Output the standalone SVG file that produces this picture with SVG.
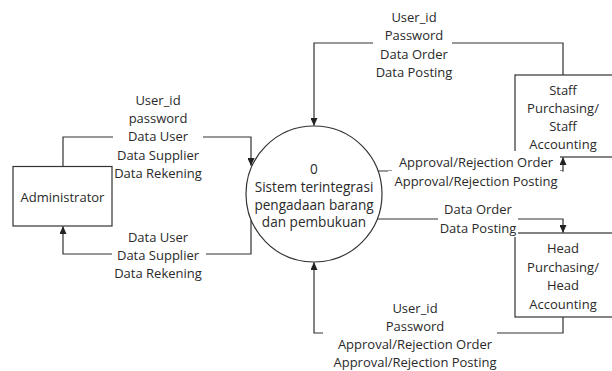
<svg xmlns="http://www.w3.org/2000/svg" width="612" height="371" viewBox="0 0 612 371">
<defs>
<style>
.t{font-family:"Open Sans","Liberation Sans",sans-serif;font-size:13px;fill:#2a2a2a;text-anchor:middle}
.c{font-size:13.6px}
.box{fill:#fff;stroke:#333;stroke-width:1.2}
.ln{fill:none;stroke:#333;stroke-width:1.2}
.bg{fill:#fff}
</style>
<marker id="ar" markerWidth="8" markerHeight="7" refX="7.5" refY="3.5" orient="auto" markerUnits="userSpaceOnUse">
<path d="M0,0 L8,3.5 L0,7 z" fill="#222"/>
</marker>
</defs>
<rect width="612" height="371" fill="#fff"/>

<g id="process0">
<circle cx="314" cy="194" r="68" class="box"/>
<text class="t c" x="314" y="173.5">0</text>
<text class="t c" x="314" y="191.5">Sistem terintegrasi</text>
<text class="t c" x="314" y="209.5">pengadaan barang</text>
<text class="t c" x="314" y="227">dan pembukuan</text>
</g>

<g id="administrator">
<rect x="13" y="166.5" width="99" height="59.5" class="box"/>
<text class="t" x="62.5" y="201.5">Administrator</text>
</g>

<g id="staff">
<rect x="515" y="75" width="100" height="82" class="box"/>
<text class="t" x="563" y="94.5">Staff</text>
<text class="t" x="563" y="112.5">Purchasing/</text>
<text class="t" x="563" y="130.5">Staff</text>
<text class="t" x="563" y="148.5">Accounting</text>
</g>

<g id="head">
<rect x="515" y="233" width="100" height="84" class="box"/>
<text class="t" x="563" y="253">Head</text>
<text class="t" x="563" y="271.5">Purchasing/</text>
<text class="t" x="563" y="290">Head</text>
<text class="t" x="563" y="308.5">Accounting</text>
</g>

<g id="connectors">
<path class="ln" d="M63 166.5 V137 H251 V165.5" marker-end="url(#ar)"/>
<path class="ln" d="M251 220 V254 H63 V226.5" marker-end="url(#ar)"/>
<path class="ln" d="M563 75 V43 H314 V125.5" marker-end="url(#ar)"/>
<path class="ln" d="M378 171 H563 V157.5" marker-end="url(#ar)"/>
<path class="ln" d="M377 219 H563 V232.5" marker-end="url(#ar)"/>
<path class="ln" d="M563 317 V333 H314 V262.5" marker-end="url(#ar)"/>

<g id="lbl-admin-in">
<rect class="bg" x="113" y="91" width="90" height="92"/>
<text class="t" x="158" y="104.5">User_id</text>
<text class="t" x="158" y="122.5">password</text>
<text class="t" x="158" y="141">Data User</text>
<text class="t" x="158" y="159.5">Data Supplier</text>
<text class="t" x="158" y="177.5">Data Rekening</text>
</g>
<g id="lbl-admin-out">
<rect class="bg" x="112" y="229" width="94" height="53"/>
<text class="t" x="158" y="241.5">Data User</text>
<text class="t" x="158" y="259.5">Data Supplier</text>
<text class="t" x="158" y="277.5">Data Rekening</text>
</g>
<g id="lbl-staff-in">
<rect class="bg" x="373" y="8" width="79" height="74"/>
<text class="t" x="414" y="21.5">User_id</text>
<text class="t" x="414" y="40">Password</text>
<text class="t" x="414" y="58.5">Data Order</text>
<text class="t" x="414" y="77">Data Posting</text>
</g>
<g id="lbl-staff-out">
<rect class="bg" x="392" y="151" width="168" height="20"/>
<rect class="bg" x="388" y="171" width="174" height="19"/>
<text class="t" x="476" y="166.5">Approval/Rejection Order</text>
<text class="t" x="476" y="185.5">Approval/Rejection Posting</text>
</g>
<g id="lbl-head-in">
<rect class="bg" x="438" y="200" width="80" height="37"/>
<text class="t" x="478" y="213.5">Data Order</text>
<text class="t" x="478" y="232.5">Data Posting</text>
</g>
<g id="lbl-head-out">
<rect class="bg" x="323" y="299" width="174" height="72"/>
<text class="t" x="415" y="312.5">User_id</text>
<text class="t" x="415" y="330.5">Password</text>
<text class="t" x="415" y="348.5">Approval/Rejection Order</text>
<text class="t" x="415" y="366.5">Approval/Rejection Posting</text>
</g>
</g>
</svg>
